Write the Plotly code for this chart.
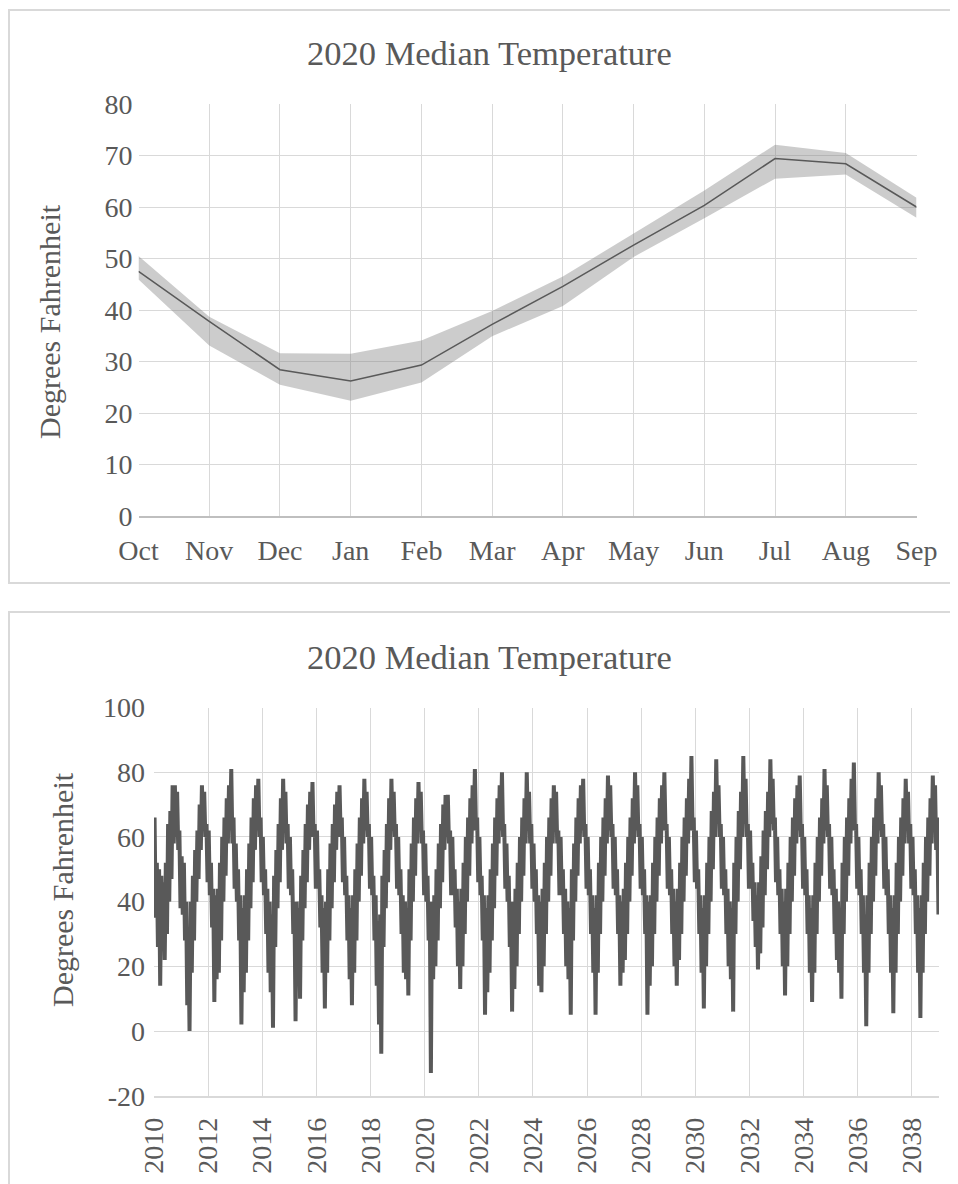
import plotly.graph_objects as go

# ---------------- Top chart data (2020 median temperature, water-year months) ----------------
months = ["Oct", "Nov", "Dec", "Jan", "Feb", "Mar", "Apr", "May", "Jun", "Jul", "Aug", "Sep"]
median_2020 = [47.5, 37.8, 28.4, 26.2, 29.3, 37.2, 44.6, 52.6, 60.3, 69.4, 68.4, 60.0]
upper_2020 = [50.5, 38.7, 31.6, 31.5, 34.1, 39.8, 46.5, 54.9, 63.2, 72.1, 70.5, 61.8]
lower_2020 = [45.9, 33.1, 25.5, 22.4, 25.9, 34.9, 40.8, 50.3, 57.8, 65.5, 66.3, 57.9]
top_y_ticks = [0, 10, 20, 30, 40, 50, 60, 70, 80]

# ---------------- Bottom chart data (daily series, read as monthly high / low per water year) ----------------
water_years = list(range(2010, 2039))
# columns: Oct Nov Dec Jan Feb Mar Apr May Jun Jul Aug Sep
monthly_high = [
    [66, 52, 50, 48, 46, 52, 64, 68, 76, 76, 74, 62],  # 2010
    [54, 52, 40, 30, 40, 48, 56, 62, 70, 76, 74, 64],  # 2011
    [62, 52, 44, 42, 44, 52, 60, 66, 72, 76, 81, 66],  # 2012
    [58, 50, 42, 38, 42, 50, 58, 66, 72, 76, 78, 66],  # 2013
    [60, 50, 44, 40, 36, 48, 56, 64, 72, 78, 74, 64],  # 2014
    [60, 50, 40, 40, 38, 48, 56, 64, 70, 74, 77, 64],  # 2015
    [62, 50, 42, 38, 40, 50, 58, 64, 70, 74, 76, 66],  # 2016
    [60, 48, 42, 38, 42, 50, 58, 66, 72, 78, 74, 64],  # 2017
    [60, 48, 42, 34, 36, 48, 56, 64, 72, 78, 74, 64],  # 2018
    [60, 50, 42, 40, 38, 50, 58, 66, 72, 77, 74, 62],  # 2019
    [58, 48, 40, 40, 42, 50, 58, 64, 70, 73, 73, 62],  # 2020
    [60, 50, 44, 40, 44, 52, 60, 66, 72, 76, 81, 66],  # 2021
    [60, 48, 42, 38, 42, 50, 58, 66, 72, 76, 80, 64],  # 2022
    [58, 48, 40, 40, 44, 52, 60, 66, 72, 80, 74, 64],  # 2023
    [58, 50, 42, 40, 44, 52, 60, 66, 72, 76, 74, 62],  # 2024
    [60, 50, 44, 40, 38, 50, 58, 66, 72, 76, 78, 64],  # 2025
    [60, 50, 42, 38, 42, 52, 60, 66, 72, 79, 76, 64],  # 2026
    [60, 50, 42, 40, 44, 52, 60, 66, 72, 80, 76, 64],  # 2027
    [60, 50, 42, 40, 42, 52, 60, 66, 72, 76, 80, 64],  # 2028
    [60, 50, 44, 40, 44, 52, 60, 66, 72, 78, 85, 66],  # 2029
    [62, 50, 42, 38, 42, 52, 60, 68, 74, 84, 76, 64],  # 2030
    [60, 50, 44, 40, 38, 52, 60, 68, 74, 85, 78, 64],  # 2031
    [62, 52, 46, 42, 46, 54, 62, 68, 74, 84, 78, 66],  # 2032
    [60, 50, 44, 40, 44, 52, 60, 66, 72, 76, 79, 64],  # 2033
    [60, 50, 42, 38, 42, 52, 60, 66, 72, 81, 76, 64],  # 2034
    [60, 50, 44, 40, 38, 52, 60, 66, 72, 78, 83, 64],  # 2035
    [60, 50, 42, 36, 42, 52, 60, 66, 72, 80, 76, 64],  # 2036
    [60, 50, 42, 38, 42, 52, 60, 66, 72, 78, 74, 64],  # 2037
    [60, 50, 42, 38, 42, 52, 60, 66, 72, 79, 76, 66],  # 2038
]
monthly_low = [
    [35, 26, 14, 27, 22, 30, 40, 47, 58, 60, 56, 38],  # 2010
    [36, 28, 8, 0, 18, 28, 40, 47, 56, 63, 60, 46],    # 2011
    [42, 32, 9, 16, 18, 28, 40, 48, 58, 62, 58, 44],   # 2012
    [40, 28, 2, 12, 18, 28, 38, 46, 56, 62, 60, 46],   # 2013
    [42, 30, 18, 12, 1, 26, 38, 46, 56, 62, 58, 44],   # 2014
    [42, 30, 3, 14, 10, 28, 38, 46, 56, 60, 60, 44],   # 2015
    [44, 32, 18, 7, 18, 28, 38, 46, 56, 60, 60, 46],   # 2016
    [42, 28, 16, 8, 18, 28, 40, 48, 58, 62, 60, 44],   # 2017
    [42, 28, 14, 2, -7, 26, 38, 46, 56, 62, 60, 44],   # 2018
    [42, 30, 18, 16, 11, 28, 40, 48, 58, 62, 58, 42],  # 2019
    [40, 28, -13, 16, 20, 28, 38, 46, 56, 60, 58, 42], # 2020
    [42, 32, 20, 13, 20, 30, 40, 48, 58, 62, 62, 46],  # 2021
    [42, 28, 5, 12, 18, 28, 38, 48, 58, 62, 60, 44],   # 2022
    [40, 26, 6, 13, 20, 30, 40, 48, 58, 62, 58, 44],   # 2023
    [40, 30, 14, 12, 20, 30, 40, 48, 58, 62, 58, 42],  # 2024
    [42, 30, 20, 16, 5, 28, 40, 48, 58, 62, 60, 44],   # 2025
    [42, 30, 18, 5, 18, 30, 40, 48, 58, 62, 60, 44],   # 2026
    [42, 30, 14, 18, 22, 30, 40, 48, 58, 62, 60, 44],  # 2027
    [42, 30, 5, 14, 20, 30, 40, 48, 58, 62, 62, 44],   # 2028
    [42, 30, 20, 14, 22, 30, 40, 48, 58, 62, 62, 46],  # 2029
    [44, 30, 18, 7, 20, 30, 40, 50, 60, 64, 60, 44],   # 2030
    [42, 30, 20, 16, 6, 30, 40, 50, 60, 64, 60, 44],   # 2031
    [44, 34, 26, 19, 24, 32, 42, 50, 60, 64, 62, 46],  # 2032
    [42, 30, 20, 11, 20, 30, 40, 48, 58, 62, 60, 44],  # 2033
    [42, 30, 18, 9, 18, 30, 40, 48, 58, 62, 60, 44],   # 2034
    [42, 30, 22, 18, 10, 30, 40, 48, 58, 62, 62, 44],  # 2035
    [42, 30, 18, 1.5, 18, 30, 40, 48, 58, 62, 60, 44], # 2036
    [42, 30, 18, 5.5, 18, 30, 40, 48, 58, 62, 58, 44], # 2037
    [42, 30, 18, 4, 18, 30, 40, 48, 58, 62, 56, 36],   # 2038
]
year_ticks = list(range(2010, 2039, 2))
bottom_y_ticks = [-20, 0, 20, 40, 60, 80, 100]

chart_title = "2020 Median Temperature"
y_title = "Degrees Fahrenheit"

# ---------------- build series ----------------
xs, ys = [], []
for i, wy in enumerate(water_years):
    for m in range(12):
        xs.append(wy + (2 * m + 0.5) / 24)
        ys.append(monthly_high[i][m])
        xs.append(wy + (2 * m + 1.5) / 24)
        ys.append(monthly_low[i][m])

W, H = 958, 1184
OFF = 8  # page body margin: figure is drawn 8px right / down in the window
FONT = "Liberation Serif"
TXT = "#595959"
GRID = "#d9d9d9"


def px(x):
    return (x - OFF) / W


def py(y):
    return 1 - (y - OFF) / H


fig = go.Figure()

# Top band + median
fig.add_trace(go.Scatter(x=months, y=upper_2020, mode="lines", line=dict(width=0),
                         showlegend=False, hoverinfo="skip", xaxis="x", yaxis="y"))
fig.add_trace(go.Scatter(x=months, y=lower_2020, mode="lines", line=dict(width=0),
                         fill="tonexty", fillcolor="rgba(128,128,128,0.40)",
                         showlegend=False, hoverinfo="skip", xaxis="x", yaxis="y"))
fig.add_trace(go.Scatter(x=months, y=median_2020, mode="lines",
                         line=dict(color="#595959", width=1.5),
                         showlegend=False, xaxis="x", yaxis="y"))

# Bottom daily series
fig.add_trace(go.Scatter(x=xs, y=ys, mode="lines",
                         line=dict(color="#595959", width=4),
                         showlegend=False, xaxis="x2", yaxis="y2"))

tick_font = dict(family=FONT, size=28, color=TXT)

fig.update_layout(
    width=W, height=H,
    margin=dict(l=0, r=0, t=0, b=0, pad=0),
    paper_bgcolor="white", plot_bgcolor="white",
    font=dict(family=FONT, color=TXT),
    showlegend=False,
    xaxis=dict(domain=[px(138.5), px(916.5)], type="category", range=[0, 11],
               showgrid=True, gridcolor=GRID, gridwidth=1,
               showline=True, linecolor="#bfbfbf", linewidth=1.5,
               ticks="", tickfont=tick_font, ticklabelstandoff=9,
               anchor="y", fixedrange=True, automargin=False),
    yaxis=dict(domain=[py(516), py(104)], range=[0, 80],
               tickvals=top_y_ticks, ticktext=[str(v) for v in top_y_ticks],
               showgrid=True, gridcolor=GRID, gridwidth=1, zeroline=False,
               showline=False, ticks="", tickfont=tick_font, ticklabelstandoff=5,
               anchor="x", fixedrange=True, automargin=False),
    xaxis2=dict(domain=[px(154), px(939)], range=[2010, 2039],
                tickvals=year_ticks, ticktext=[str(v) for v in year_ticks],
                tickangle=-90, showgrid=True, gridcolor=GRID, gridwidth=1,
                showline=True, linecolor=GRID, linewidth=1.5, zeroline=False,
                ticks="", tickfont=tick_font, ticklabelstandoff=9,
                anchor="y2", fixedrange=True, automargin=False),
    yaxis2=dict(domain=[py(1095.7), py(707.6)], range=[-20, 100],
                tickvals=bottom_y_ticks, ticktext=[str(v) for v in bottom_y_ticks],
                showgrid=True, gridcolor=GRID, gridwidth=1, zeroline=False,
                showline=False, ticks="", tickfont=tick_font, ticklabelstandoff=8,
                anchor="x2", fixedrange=True, automargin=False),
    shapes=[
        dict(type="rect", xref="paper", yref="paper",
             x0=px(9), x1=px(957), y0=py(583), y1=py(10),
             line=dict(color=GRID, width=2), fillcolor="rgba(0,0,0,0)", layer="below"),
        dict(type="rect", xref="paper", yref="paper",
             x0=px(9), x1=px(957), y0=py(1200), y1=py(612),
             line=dict(color=GRID, width=2), fillcolor="rgba(0,0,0,0)", layer="below"),
    ],
    annotations=[
        dict(text=chart_title, x=px(489), y=py(53), xref="paper", yref="paper",
             showarrow=False, xanchor="center", yanchor="middle",
             font=dict(family=FONT, size=34.5, color=TXT)),
        dict(text=chart_title, x=px(489), y=py(657), xref="paper", yref="paper",
             showarrow=False, xanchor="center", yanchor="middle",
             font=dict(family=FONT, size=34.5, color=TXT)),
        dict(text=y_title, x=px(50), y=py(322), xref="paper", yref="paper",
             showarrow=False, textangle=-90, xanchor="center", yanchor="middle",
             font=dict(family=FONT, size=30, color=TXT)),
        dict(text=y_title, x=px(62), y=py(890), xref="paper", yref="paper",
             showarrow=False, textangle=-90, xanchor="center", yanchor="middle",
             font=dict(family=FONT, size=30, color=TXT)),
    ],
)

fig.write_html("out.html")
